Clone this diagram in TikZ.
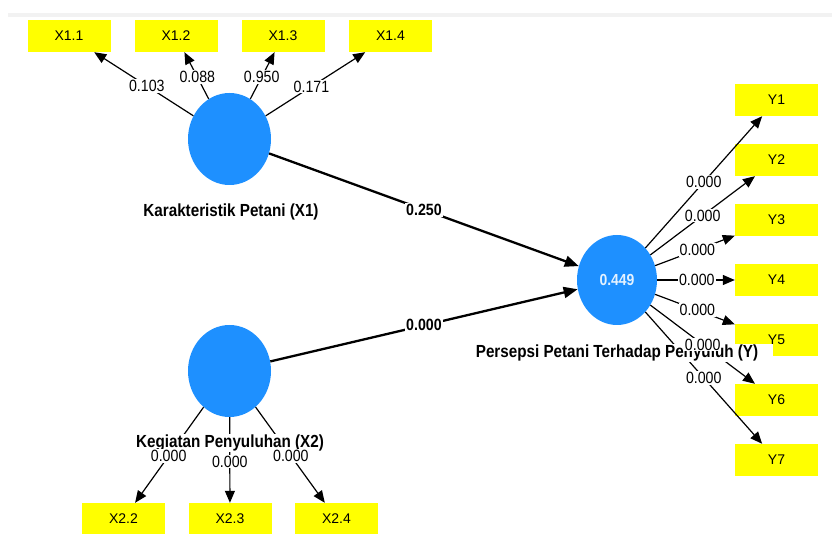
\documentclass[tikz,border=0pt]{standalone}
\usepackage{fontspec}
\setmainfont{Liberation Sans}
\newfontfamily\narrowfont[FakeStretch=0.87]{Liberation Sans}
\usetikzlibrary{arrows.meta,shapes.geometric}
\definecolor{lvblue}{RGB}{30,144,255}
\definecolor{mvyellow}{RGB}{255,255,0}

\begin{document}
\begin{tikzpicture}[x=1pt, y=-1pt,
    indicator/.style={fill=mvyellow, minimum width=83pt, minimum height=32pt, inner sep=0pt, font=\fontsize{14}{16}\selectfont},
    latent/.style={ellipse, fill=lvblue, minimum width=83pt, minimum height=92pt, inner sep=0pt},
    lvname/.style={fill=white, inner sep=1pt, font=\narrowfont\bfseries\fontsize{17.5}{19}\selectfont},
    loading/.style={-{Triangle[length=12pt,width=10pt]}, line width=1.2pt},
    structural/.style={-{Triangle[length=14pt,width=11pt]}, line width=2.3pt},
    coef/.style={fill=white, inner sep=1pt, font=\narrowfont\fontsize{16.3}{18}\selectfont},
    bcoef/.style={fill=white, inner sep=1pt, font=\narrowfont\bfseries\fontsize{16.3}{18}\selectfont}]
    \useasboundingbox (0,0) rectangle (832,534);
    \fill[black!5] (8,13) rectangle (832,17);

    % Indicators of X1
    \node[indicator] (x11) at (69,36) {X1.1};
    \node[indicator] (x12) at (176,36) {X1.2};
    \node[indicator] (x13) at (283,36) {X1.3};
    \node[indicator] (x14) at (390.5,36) {X1.4};

    % Indicators of X2
    \node[indicator] (x22) at (123.5,519) {X2.2};
    \node[indicator] (x23) at (230,519) {X2.3};
    \node[indicator] (x24) at (336.5,519) {X2.4};

    % Indicators of Y
    \node[indicator] (y1) at (776.5,100) {Y1};
    \node[indicator] (y2) at (776.5,160) {Y2};
    \node[indicator] (y3) at (776.5,220) {Y3};
    \node[indicator] (y4) at (776.5,280) {Y4};
    \node[indicator] (y5) at (776.5,340) {Y5};
    \node[indicator] (y6) at (776.5,400) {Y6};
    \node[indicator] (y7) at (776.5,460) {Y7};

    % Latent variables
    \node[latent] (x1) at (229.5,139) {};
    \node[latent] (x2) at (229.5,371) {};
    \node[latent, minimum width=80pt, minimum height=90pt, text=white!88!lvblue,
        font=\narrowfont\bfseries\fontsize{16}{18}\selectfont] (y) at (617,280) {0.449};

    % Arrows
    \draw[structural] (x1) -- (y);
    \draw[structural] (x2) -- (y);
    \draw[loading] (x1) -- (x11);
    \draw[loading] (x1) -- (x12);
    \draw[loading] (x1) -- (x13);
    \draw[loading] (x1) -- (x14);
    \draw[loading] (x2) -- (x22);
    \draw[loading] (x2) -- (x23);
    \draw[loading] (x2) -- (x24);
    \draw[loading] (y) -- (y1);
    \draw[loading] (y) -- (y2);
    \draw[loading] (y) -- (y3);
    \draw[loading] (y) -- (y4);
    \draw[loading] (y) -- (y5);
    \draw[loading] (y) -- (y6);
    \draw[loading] (y) -- (y7);

    % Names of latent variables
    \node[lvname] (x1name) at (231,212) {Karakteristik Petani (X1)};
    \node[lvname] (x2name) at (230,443) {Kegiatan Penyuluhan (X2)};
    \node[lvname, inner xsep=15pt] (yname) at (617,353) {Persepsi Petani Terhadap Penyuluh (Y)};

    % Coefficients
    \path (x1) -- node[bcoef] (c1) {0.250} (y);
    \path (x2) -- node[bcoef] (c2) {0.000} (y);
    \path (x1) -- node[coef, pos=0.47] (c11) {0.103} (x11);
    \path (x1) -- node[coef, pos=0.47] (c12) {0.088} (x12);
    \path (x1) -- node[coef, pos=0.47] (c13) {0.950} (x13);
    \path (x1) -- node[coef, pos=0.46] (c14) {0.171} (x14);
    \path (x2) -- node[coef, pos=0.51] (c22) {0.000} (x22);
    \path (x2) -- node[coef, pos=0.52] (c23) {0.000} (x23);
    \path (x2) -- node[coef, pos=0.51] (c24) {0.000} (x24);
    \path (y) -- node[coef, pos=0.5] (cy1) {0.000} (y1);
    \path (y) -- node[coef, pos=0.5] (cy2) {0.000} (y2);
    \path (y) -- node[coef, pos=0.53] (cy3) {0.000} (y3);
    \path (y) -- node[coef, pos=0.51] (cy4) {0.000} (y4);
    \path (y) -- node[coef, pos=0.53] (cy5) {0.000} (y5);
    \path (y) -- node[coef, pos=0.5] (cy6) {0.000} (y6);
    \path (y) -- node[coef, pos=0.5] (cy7) {0.000} (y7);
\end{tikzpicture}
\end{document}
